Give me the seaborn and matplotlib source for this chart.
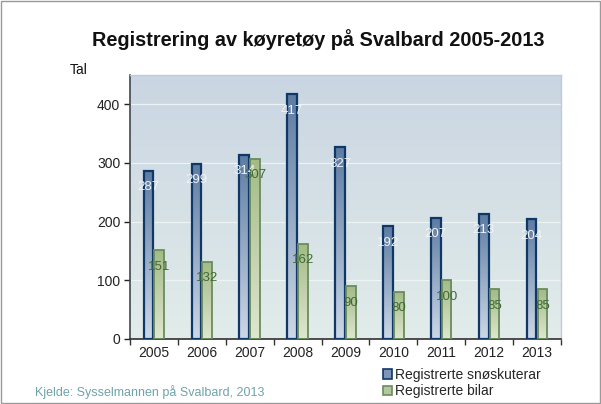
import numpy as np
import pandas as pd
import matplotlib
matplotlib.use("Agg")
import matplotlib.pyplot as plt
import seaborn as sns
from matplotlib.patches import Rectangle, Patch
from matplotlib.colors import LinearSegmentedColormap

years = ["2005", "2006", "2007", "2008", "2009", "2010", "2011", "2012", "2013"]
snoskuterar = [287, 299, 314, 417, 327, 192, 207, 213, 204]
bilar = [151, 132, 307, 162, 90, 80, 100, 85, 85]
series_names = ["Registrerte snøskuterar", "Registrerte bilar"]
title = "Registrering av køyretøy på Svalbard 2005-2013"
source = "Kjelde: Sysselmannen på Svalbard, 2013"

df = pd.DataFrame({
    "year": years * 2,
    "value": snoskuterar + bilar,
    "series": [series_names[0]] * len(years) + [series_names[1]] * len(years),
})

sns.set_theme(style="white")
plt.rcParams["font.family"] = ["Liberation Sans", "DejaVu Sans"]

fig = plt.figure(figsize=(6.01, 4.04), dpi=100)
ax = fig.add_axes([0.2163, 0.1609, 0.7171, 0.6535])

sns.barplot(data=df, x="year", y="value", hue="series", order=years,
            hue_order=series_names, width=0.45, gap=0.1, ax=ax,
            palette=["#5b7aa1", "#a9bf8e"], legend=False, saturation=1)

ax.set_ylim(0, 450)
ax.set_xlim(-0.5, len(years) - 0.5)

# background gradient
bg = LinearSegmentedColormap.from_list("bg", ["#e2ecea", "#c9d5e2"])
ax.imshow(np.linspace(0, 1, 256).reshape(-1, 1), cmap=bg, origin="lower",
          aspect="auto", extent=[-0.5, len(years) - 0.5, 0, 450], zorder=0)

for yv in [100, 200, 300, 400]:
    ax.axhline(yv, color="#eef3f3", lw=0.9, zorder=0.5)

blue_cm = LinearSegmentedColormap.from_list("b", ["#cdd8e6", "#5d7ca2"])
green_cm = LinearSegmentedColormap.from_list("g", ["#dfe7cf", "#a3ba86"])
edges = ["#0f3768", "#6a8c5e"]
cms = [blue_cm, green_cm]

patches = list(ax.patches)
n = len(years)
for i, p in enumerate(patches):
    s = 0 if i < n else 1
    x0, y0 = p.get_x(), p.get_y()
    w, h = p.get_width(), p.get_height()
    p.set_facecolor("none")
    p.set_edgecolor(edges[s])
    p.set_linewidth(1.6 if s == 0 else 1.3)
    p.set_zorder(3)
    im = ax.imshow(np.linspace(0, 1, 256).reshape(-1, 1), cmap=cms[s], origin="lower",
                   aspect="auto", extent=[x0, x0 + w, y0, y0 + h], zorder=2)
    im.set_clip_path(p)
    val = h
    ax.text(x0 + w / 2, val - 28, f"{int(val)}", ha="center", va="center",
            fontsize=9.5, color="#f2f4f6" if s == 0 else "#3f6a35", zorder=4)

ax.set_ylim(0, 450)
ax.set_xlim(-0.5, len(years) - 0.5)

ax.set_xlabel("")
ax.set_ylabel("")
ax.set_yticks([0, 100, 200, 300, 400])
ax.tick_params(axis="y", labelsize=10, colors="#222222", length=4, width=1,
               direction="out", left=True, pad=3)
ax.set_xticks(range(n))
ax.set_xticklabels(years)
ax.tick_params(axis="x", labelsize=10, colors="#222222", length=0, pad=5)
ax.set_xticks(np.arange(-0.5, n, 1.0), minor=True)
ax.tick_params(axis="x", which="minor", length=4, width=1, color="#333333",
               direction="out", bottom=True)

for side in ["top", "right"]:
    ax.spines[side].set_visible(True)
    ax.spines[side].set_color("#c0cbd8")
    ax.spines[side].set_linewidth(1)
ax.spines["left"].set_color("#404850")
ax.spines["left"].set_linewidth(1.2)
ax.spines["bottom"].set_color("#303030")
ax.spines["bottom"].set_linewidth(1.2)

fig.text(0.529, 0.903, title, ha="center", va="center", fontsize=14.3,
         fontweight="bold", color="#111111")
fig.text(0.131, 0.826, "Tal", ha="center", va="center", fontsize=10, color="#111111")
fig.text(0.058, 0.029, source, ha="left", va="center", fontsize=9, color="#6fa3ab")

handles = [Patch(facecolor="#7b96b8", edgecolor="#0f3768", lw=1.2),
           Patch(facecolor="#b5c89d", edgecolor="#6a8c5e", lw=1.2)]
fig.legend(handles, series_names, loc="center left", bbox_to_anchor=(0.625, 0.052),
           frameon=False, fontsize=10, handlelength=0.7, handleheight=0.7,
           handletextpad=0.2, labelspacing=0.2, borderpad=0)

fig.patches.append(Rectangle((0.002, 0.002), 0.996, 0.996, transform=fig.transFigure,
                             fill=False, edgecolor="#9a9a9a", lw=1))

fig.savefig("out.png", dpi=100)
